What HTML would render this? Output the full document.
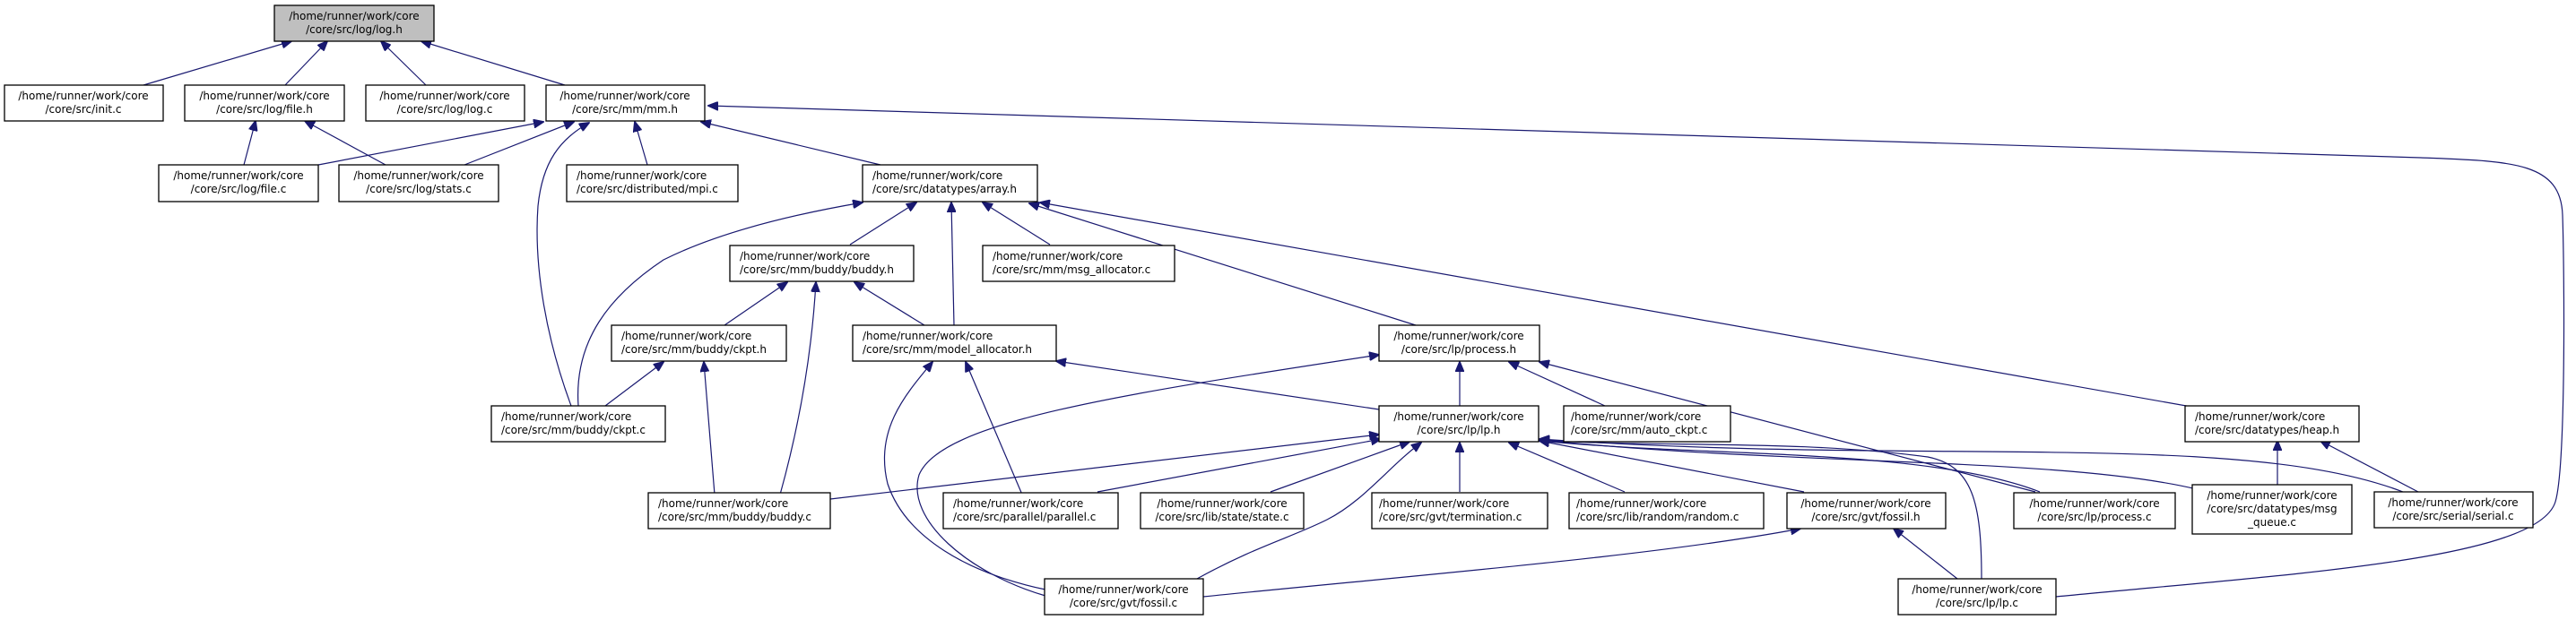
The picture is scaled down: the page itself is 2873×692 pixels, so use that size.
<!DOCTYPE html>
<html><head><meta charset="utf-8"><style>
html,body{margin:0;padding:0;background:#fff;}
svg{display:block;}
text{font-family:"DejaVu Sans","Liberation Sans",sans-serif;font-size:12px;fill:#000;}
.b{fill:#fff;stroke:#000;stroke-width:1.3;}
.e{fill:none;stroke:#191970;stroke-width:1.2;}
</style></head><body>
<svg width="2873" height="692" viewBox="0 0 2873 692" xmlns="http://www.w3.org/2000/svg">
<defs><marker id="a" markerWidth="12" markerHeight="10" refX="11" refY="5" orient="auto" markerUnits="userSpaceOnUse"><path d="M0,0 L12,5 L0,10 z" fill="#191970" stroke="#191970"/></marker></defs>
<g marker-end="url(#a)">
<path class="e" d="M160,95 L325,46"/>
<path class="e" d="M318,95 L365,46"/>
<path class="e" d="M475,95 L425,46"/>
<path class="e" d="M630,95 L470,46"/>
<path class="e" d="M272,184 L285,135"/>
<path class="e" d="M430,184 L340,135"/>
<path class="e" d="M355,184 L606,136"/>
<path class="e" d="M518,184 L640,136"/>
<path class="e" d="M637,453 C610,380 595,300 600,230 C605,180 625,155 657,137"/>
<path class="e" d="M722,184 L708,136"/>
<path class="e" d="M982,184 L782,136"/>
<path class="e" d="M2293,666 C2560,640 2830,625 2850,560 C2862,520 2860,300 2858,240 C2856,180 2800,180 2700,176 L790,118"/>
<path class="e" d="M948,273 L1022,226"/>
<path class="e" d="M1064,363 L1061,226"/>
<path class="e" d="M1171,273 L1096,226"/>
<path class="e" d="M1579,363 L1148,227"/>
<path class="e" d="M2444,454 L1160,226"/>
<path class="e" d="M645,453 C640,380 680,330 740,290 C800,260 880,240 962,226"/>
<path class="e" d="M808,363 L878,315"/>
<path class="e" d="M870,552 C890,480 905,400 910,315"/>
<path class="e" d="M1031,363 L953,315"/>
<path class="e" d="M675,453 L740,404"/>
<path class="e" d="M797,552 L785,404"/>
<path class="e" d="M1166,658 C1080,640 1010,600 990,540 C975,480 1010,440 1040,404"/>
<path class="e" d="M1140,552 L1077,404"/>
<path class="e" d="M1538,457 L1178,403"/>
<path class="e" d="M1628,453 L1628,404"/>
<path class="e" d="M1790,453 L1683,404"/>
<path class="e" d="M2270,549 L1717,404"/>
<path class="e" d="M1166,665 C1080,640 1010,580 1025,530 C1050,470 1250,440 1538,396"/>
<path class="e" d="M926,557 L1538,485"/>
<path class="e" d="M1224,549 L1540,490"/>
<path class="e" d="M1417,549 L1572,493"/>
<path class="e" d="M1335,646 C1400,610 1440,600 1480,580 C1520,560 1550,520 1585,494"/>
<path class="e" d="M1628,549 L1628,494"/>
<path class="e" d="M1812,549 L1683,494"/>
<path class="e" d="M2012,549 L1717,492"/>
<path class="e" d="M2275,549 C2150,500 1900,510 1717,492"/>
<path class="e" d="M2450,546 C2300,510 2000,520 1717,491"/>
<path class="e" d="M2680,549 C2500,480 2150,520 1717,490"/>
<path class="e" d="M2210,646 C2210,560 2200,520 2150,510 C2000,490 1850,500 1717,491"/>
<path class="e" d="M2540,541 L2540,492"/>
<path class="e" d="M2697,549 L2588,492"/>
<path class="e" d="M1342,666 C1600,640 1850,620 2008,590"/>
<path class="e" d="M2183,646 L2112,590"/>
</g>
<rect x="306" y="6" width="178" height="40" fill="#bfbfbf" stroke="#000" stroke-width="1.3"/>
<text x="395" y="22" text-anchor="middle">/home/runner/work/core</text><text x="395" y="37" text-anchor="middle">/core/src/log/log.h</text>
<g>
<rect class="b" x="5" y="95" width="177" height="40"/><text x="93" y="111" text-anchor="middle">/home/runner/work/core</text><text x="93" y="126" text-anchor="middle">/core/src/init.c</text>
<rect class="b" x="206" y="95" width="178" height="40"/><text x="295" y="111" text-anchor="middle">/home/runner/work/core</text><text x="295" y="126" text-anchor="middle">/core/src/log/file.h</text>
<rect class="b" x="408" y="95" width="177" height="40"/><text x="496" y="111" text-anchor="middle">/home/runner/work/core</text><text x="496" y="126" text-anchor="middle">/core/src/log/log.c</text>
<rect class="b" x="609" y="95" width="177" height="40"/><text x="697" y="111" text-anchor="middle">/home/runner/work/core</text><text x="697" y="126" text-anchor="middle">/core/src/mm/mm.h</text>
<rect class="b" x="177" y="184" width="178" height="41"/><text x="266" y="200" text-anchor="middle">/home/runner/work/core</text><text x="266" y="215" text-anchor="middle">/core/src/log/file.c</text>
<rect class="b" x="378" y="184" width="178" height="41"/><text x="467" y="200" text-anchor="middle">/home/runner/work/core</text><text x="467" y="215" text-anchor="middle">/core/src/log/stats.c</text>
<rect class="b" x="632" y="184" width="191" height="41"/><text x="643" y="200">/home/runner/work/core</text><text x="643" y="215">/core/src/distributed/mpi.c</text>
<rect class="b" x="962" y="184" width="195" height="41"/><text x="973" y="200">/home/runner/work/core</text><text x="973" y="215">/core/src/datatypes/array.h</text>
<rect class="b" x="814" y="274" width="205" height="40"/><text x="825" y="290">/home/runner/work/core</text><text x="825" y="305">/core/src/mm/buddy/buddy.h</text>
<rect class="b" x="1096" y="274" width="214" height="40"/><text x="1107" y="290">/home/runner/work/core</text><text x="1107" y="305">/core/src/mm/msg_allocator.c</text>
<rect class="b" x="682" y="363" width="195" height="40"/><text x="693" y="379">/home/runner/work/core</text><text x="693" y="394">/core/src/mm/buddy/ckpt.h</text>
<rect class="b" x="951" y="363" width="227" height="40"/><text x="962" y="379">/home/runner/work/core</text><text x="962" y="394">/core/src/mm/model_allocator.h</text>
<rect class="b" x="1538" y="363" width="179" height="40"/><text x="1627" y="379" text-anchor="middle">/home/runner/work/core</text><text x="1627" y="394" text-anchor="middle">/core/src/lp/process.h</text>
<rect class="b" x="548" y="453" width="194" height="40"/><text x="559" y="469">/home/runner/work/core</text><text x="559" y="484">/core/src/mm/buddy/ckpt.c</text>
<rect class="b" x="1538" y="453" width="178" height="40"/><text x="1627" y="469" text-anchor="middle">/home/runner/work/core</text><text x="1627" y="484" text-anchor="middle">/core/src/lp/lp.h</text>
<rect class="b" x="1744" y="453" width="186" height="40"/><text x="1752" y="469">/home/runner/work/core</text><text x="1752" y="484">/core/src/mm/auto_ckpt.c</text>
<rect class="b" x="2437" y="453" width="194" height="40"/><text x="2448" y="469">/home/runner/work/core</text><text x="2448" y="484">/core/src/datatypes/heap.h</text>
<rect class="b" x="723" y="550" width="203" height="40"/><text x="734" y="566">/home/runner/work/core</text><text x="734" y="581">/core/src/mm/buddy/buddy.c</text>
<rect class="b" x="1052" y="550" width="195" height="40"/><text x="1063" y="566">/home/runner/work/core</text><text x="1063" y="581">/core/src/parallel/parallel.c</text>
<rect class="b" x="1272" y="550" width="182" height="40"/><text x="1363" y="566" text-anchor="middle">/home/runner/work/core</text><text x="1363" y="581" text-anchor="middle">/core/src/lib/state/state.c</text>
<rect class="b" x="1530" y="550" width="196" height="40"/><text x="1538" y="566">/home/runner/work/core</text><text x="1538" y="581">/core/src/gvt/termination.c</text>
<rect class="b" x="1750" y="550" width="217" height="40"/><text x="1758" y="566">/home/runner/work/core</text><text x="1758" y="581">/core/src/lib/random/random.c</text>
<rect class="b" x="1993" y="550" width="177" height="40"/><text x="2081" y="566" text-anchor="middle">/home/runner/work/core</text><text x="2081" y="581" text-anchor="middle">/core/src/gvt/fossil.h</text>
<rect class="b" x="2246" y="550" width="180" height="40"/><text x="2336" y="566" text-anchor="middle">/home/runner/work/core</text><text x="2336" y="581" text-anchor="middle">/core/src/lp/process.c</text>
<rect class="b" x="2445" y="541" width="178" height="55"/><text x="2534" y="557" text-anchor="middle">/home/runner/work/core</text><text x="2534" y="572" text-anchor="middle">/core/src/datatypes/msg</text><text x="2534" y="587" text-anchor="middle">_queue.c</text>
<rect class="b" x="2648" y="549" width="177" height="40"/><text x="2736" y="565" text-anchor="middle">/home/runner/work/core</text><text x="2736" y="580" text-anchor="middle">/core/src/serial/serial.c</text>
<rect class="b" x="1165" y="646" width="177" height="40"/><text x="1253" y="662" text-anchor="middle">/home/runner/work/core</text><text x="1253" y="677" text-anchor="middle">/core/src/gvt/fossil.c</text>
<rect class="b" x="2117" y="646" width="176" height="40"/><text x="2205" y="662" text-anchor="middle">/home/runner/work/core</text><text x="2205" y="677" text-anchor="middle">/core/src/lp/lp.c</text>
</g>
</svg>
</body></html>
